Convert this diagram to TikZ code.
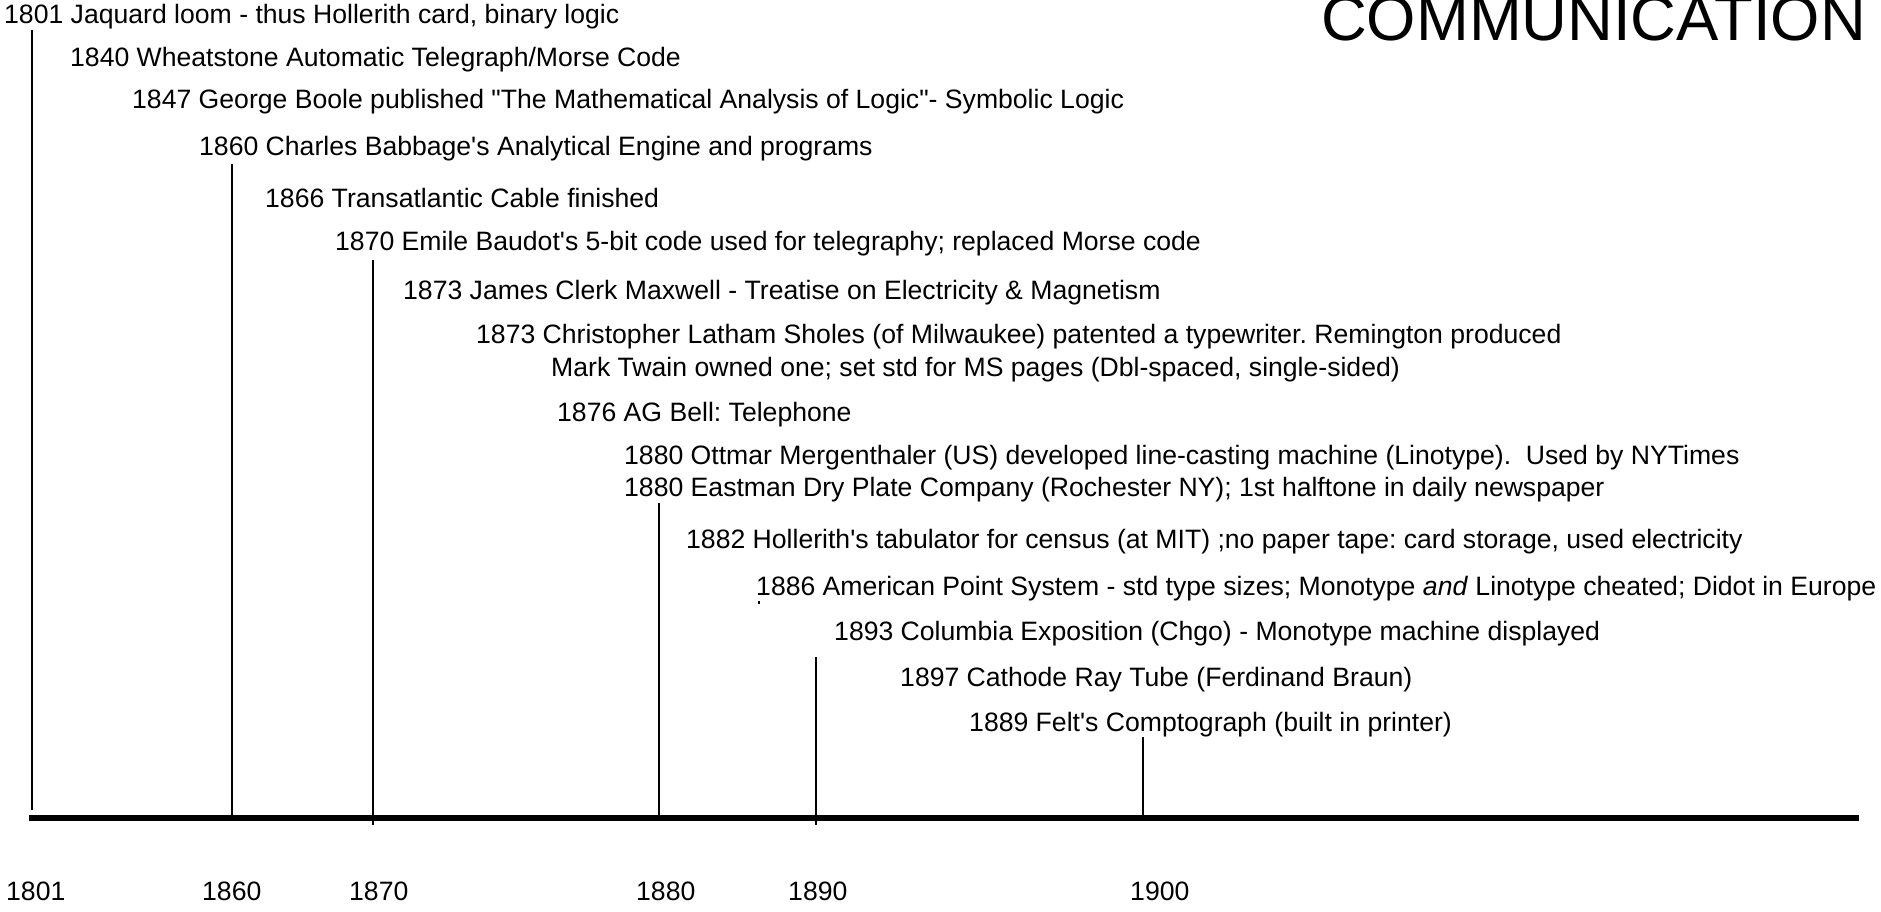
\documentclass[tikz,border=0pt]{standalone}
\usepackage{fontspec}
\setmainfont[Ligatures=TeXOff]{Liberation Sans}
\frenchspacing
\begin{document}
\begin{tikzpicture}[x=1pt,y=-1pt,
  evt/.style={anchor=base west,inner sep=0pt,font=\fontsize{26.6}{32}\selectfont},
  yr/.style={anchor=base west,inner sep=0pt,font=\fontsize{26.6}{32}\selectfont},
  ttl/.style={anchor=base east,inner sep=0pt,font=\fontsize{63.4}{70}\selectfont},
  stem/.style={line width=1.8pt},
  axisline/.style={line width=5.5pt}]
\useasboundingbox (0,0) rectangle (1881,911);
% title
\node[ttl] (title) at (1866,40) {COMMUNICATION};
% events
\node[evt] (e1801) at (4,23) {1801 Jaquard loom - thus Hollerith card, binary logic};
\node[evt] (e1840) at (70,66) {1840 Wheatstone Automatic Telegraph/Morse Code};
\node[evt] (e1847) at (132,108) {1847 George Boole published "The Mathematical Analysis of Logic"- Symbolic Logic};
\node[evt] (e1860) at (199,155) {1860 Charles Babbage's Analytical Engine and programs};
\node[evt] (e1866) at (265,207) {1866 Transatlantic Cable finished};
\node[evt] (e1870) at (335,250) {1870 Emile Baudot's 5-bit code used for telegraphy; replaced Morse code};
\node[evt] (e1873a) at (403,299) {1873 James Clerk Maxwell - Treatise on Electricity \& Magnetism};
\node[evt] (e1873b) at (476,343) {1873 Christopher Latham Sholes (of Milwaukee) patented a typewriter. Remington produced};
\node[evt] (e1873c) at (551,376) {Mark Twain owned one; set std for MS pages (Dbl-spaced, single-sided)};
\node[evt] (e1876) at (557,421) {1876 AG Bell: Telephone};
\node[evt] (e1880a) at (624,464) {1880 Ottmar Mergenthaler (US) developed line-casting machine (Linotype).\ \ Used by NYTimes};
\node[evt] (e1880b) at (624,496) {1880 Eastman Dry Plate Company (Rochester NY); 1st halftone in daily newspaper};
\node[evt] (e1882) at (686,548) {1882 Hollerith's tabulator for census (at MIT) ;no paper tape: card storage, used electricity};
\node[evt] (e1886) at (756,595) {1886 American Point System - std type sizes; Monotype \textit{and} Linotype cheated; Didot in Europe};
\node[evt] (e1893) at (834,640) {1893 Columbia Exposition (Chgo) - Monotype machine displayed};
\node[evt] (e1897) at (900,686) {1897 Cathode Ray Tube (Ferdinand Braun)};
\node[evt] (e1889) at (969,731) {1889 Felt's Comptograph (built in printer)};
% axis
\coordinate (axL) at (29,818);
\coordinate (axR) at (1859,818);
\draw[axisline] (axL) -- (axR);
% stems
\coordinate (s1801) at (32,30);   \coordinate (b1801) at (32,810);
\coordinate (s1860) at (232,164); \coordinate (b1860) at (232,818);
\coordinate (s1870) at (373,260); \coordinate (b1870) at (373,825);
\coordinate (s1880) at (659,503); \coordinate (b1880) at (659,818);
\coordinate (s1890) at (816,657); \coordinate (b1890) at (816,825);
\coordinate (s1900) at (1143,737); \coordinate (b1900) at (1143,818);
\draw[stem] (s1801) -- (b1801);
\draw[stem] (s1860) -- (b1860);
\draw[stem] (s1870) -- (b1870);
\draw[stem] (s1880) -- (b1880);
\draw[stem] (s1890) -- (b1890);
\draw[stem] (s1900) -- (b1900);
% small stray tick
\coordinate (dotA) at (759,601); \coordinate (dotB) at (759,604);
\draw[line width=1.6pt] (dotA) -- (dotB);
% year labels
\node[yr] (y1801) at (6,900) {1801};
\node[yr] (y1860) at (202,900) {1860};
\node[yr] (y1870) at (349,900) {1870};
\node[yr] (y1880) at (636,900) {1880};
\node[yr] (y1890) at (788,900) {1890};
\node[yr] (y1900) at (1130,900) {1900};
\end{tikzpicture}
\end{document}
